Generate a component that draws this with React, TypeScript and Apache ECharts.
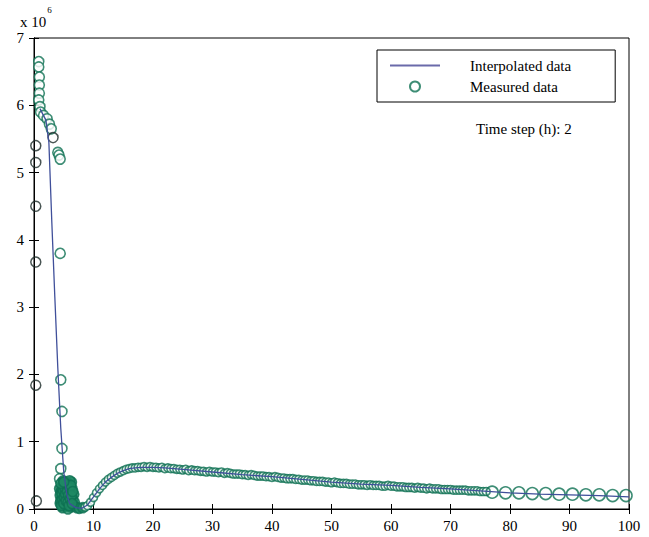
import React, { useEffect, useRef } from "react";
import * as echarts from "echarts";

const xTicks = [0, 10, 20, 30, 40, 50, 60, 70, 80, 90, 100];
const yTicks = [0, 1, 2, 3, 4, 5, 6, 7];

// Interpolated data (values in units of 10^6)
const interpX = [1, 2, 2.5, 3, 3.5, 4, 4.5, 5, 5.5, 6, 7, 8, 9, 10, 11, 12, 13, 14, 15, 16, 17, 18, 19, 20, 22, 25, 30, 35, 40, 45, 50, 55, 60, 65, 70, 75, 80, 85, 90, 95, 100];
const interpY = [5.95, 5.78, 5.45, 4.25, 3.15, 2.1, 1.2, 0.55, 0.22, 0.08, 0.02, 0.01, 0.06, 0.18, 0.3, 0.4, 0.47, 0.53, 0.57, 0.6, 0.61, 0.62, 0.62, 0.62, 0.61, 0.59, 0.55, 0.51, 0.48, 0.44, 0.4, 0.37, 0.35, 0.32, 0.3, 0.27, 0.24, 0.22, 0.21, 0.2, 0.18];

// Measured data
const measuredEarly = [
  [0.8, 6.65], [0.8, 6.57], [0.9, 6.42], [0.9, 6.3], [0.9, 6.18], [0.8, 6.08], [1.0, 5.98], [1.1, 5.9],
  [1.6, 5.85], [2.2, 5.8], [2.6, 5.72], [2.9, 5.65], [4.0, 5.3], [4.2, 5.26], [4.4, 5.2],
  [4.4, 3.8], [4.5, 1.92], [4.7, 1.45], [4.7, 0.9], [4.5, 0.6], [4.3, 0.45],
];
const measuredCluster = [
  [4.3, 0.3], [4.5, 0.25], [4.6, 0.15], [4.4, 0.08], [4.8, 0.02], [5.0, 0.2], [5.1, 0.35], [5.2, 0.1],
  [5.4, 0.28], [5.5, 0.05], [5.6, 0.18], [5.8, 0.38], [5.9, 0.32], [6.0, 0.12], [6.1, 0.25], [6.2, 0.03],
  [6.3, 0.4], [6.4, 0.3], [6.5, 0.15], [6.6, 0.05], [6.7, 0.22], [4.9, 0.42], [5.3, 0.4], [5.7, 0.0],
  [6.0, 0.42], [4.7, 0.3], [6.8, 0.1], [7.2, 0.02], [7.6, 0.01], [8.2, 0.02],
  [4.4, 0.2], [4.5, 0.12], [4.6, 0.05], [4.7, 0.22], [4.8, 0.14], [4.9, 0.28], [5.0, 0.08], [5.1, 0.18],
  [5.2, 0.3], [5.3, 0.22], [5.4, 0.12], [5.5, 0.36], [5.6, 0.26], [5.7, 0.1], [5.8, 0.2], [5.9, 0.05],
  [6.0, 0.32], [6.1, 0.15], [6.2, 0.35], [6.3, 0.2], [6.4, 0.08], [6.5, 0.26], [4.5, 0.38], [5.0, 0.4],
];
const measuredBand = [
  [8.6, 0.03], [9.0, 0.05], [9.5, 0.1], [10, 0.17], [10.5, 0.24], [11, 0.3], [11.5, 0.35], [12, 0.4], [12.5, 0.44],
  [13, 0.47], [13.5, 0.5], [14, 0.53], [14.5, 0.55], [15, 0.57], [15.5, 0.59], [16, 0.6], [16.5, 0.61],
  [17, 0.61], [17.5, 0.62], [18, 0.62], [18.5, 0.63], [19, 0.62], [19.5, 0.63], [20, 0.62], [20.5, 0.62],
  [21, 0.61], [21.5, 0.62], [22, 0.6], [22.5, 0.61], [23, 0.6], [23.5, 0.6], [24, 0.59], [24.5, 0.59],
  [25, 0.58], [25.5, 0.59], [26, 0.57], [26.5, 0.58], [27, 0.57], [27.5, 0.57], [28, 0.56], [28.5, 0.56],
  [29, 0.55], [29.5, 0.56], [30, 0.55], [30.5, 0.55], [31, 0.54], [31.5, 0.55], [32, 0.53], [32.5, 0.54],
  [33, 0.53], [33.5, 0.52], [34, 0.52], [34.5, 0.52], [35, 0.51], [35.5, 0.51], [36, 0.5], [36.5, 0.51],
  [37, 0.5], [37.5, 0.49], [38, 0.49], [38.5, 0.49], [39, 0.48], [39.5, 0.48], [40, 0.47], [40.5, 0.48],
  [41, 0.47], [41.5, 0.46], [42, 0.46], [42.5, 0.45], [43, 0.45], [43.5, 0.45], [44, 0.44], [44.5, 0.44],
  [45, 0.43], [45.5, 0.43], [46, 0.43], [46.5, 0.42], [47, 0.42], [47.5, 0.41], [48, 0.41], [48.5, 0.41],
  [49, 0.4], [49.5, 0.4], [50, 0.39], [50.5, 0.4], [51, 0.39], [51.5, 0.38], [52, 0.38], [52.5, 0.38],
  [53, 0.37], [53.5, 0.37], [54, 0.37], [54.5, 0.36], [55, 0.36], [55.5, 0.36], [56, 0.35], [56.5, 0.36],
  [57, 0.35], [57.5, 0.35], [58, 0.35], [58.5, 0.34], [59, 0.34], [59.5, 0.35], [60, 0.34], [60.5, 0.34],
  [61, 0.33], [61.5, 0.33], [62, 0.33], [62.5, 0.32], [63, 0.32], [63.5, 0.32], [64, 0.31], [64.5, 0.32],
  [65, 0.31], [65.5, 0.31], [66, 0.3], [66.5, 0.31], [67, 0.3], [67.5, 0.3], [68, 0.3], [68.5, 0.29],
  [69, 0.29], [69.5, 0.29], [70, 0.29], [70.5, 0.28], [71, 0.28], [71.5, 0.28], [72, 0.28], [72.5, 0.28],
  [73, 0.27], [73.5, 0.27], [74, 0.27], [74.5, 0.27], [75, 0.26], [75.5, 0.26], [76, 0.26],
];
const measuredTail = [
  [77.0, 0.25], [79.25, 0.24], [81.5, 0.24], [83.75, 0.23], [86, 0.23], [88.25, 0.22], [90.5, 0.22],
  [92.75, 0.21], [95, 0.21], [97.25, 0.2], [99.5, 0.2],
];
const measuredDark = [
  [0.3, 5.4], [0.3, 5.15], [0.3, 4.5], [0.3, 3.67], [0.3, 1.84], [0.4, 0.12], [3.2, 5.52],
];

const FONT = "'Liberation Serif', 'DejaVu Serif', serif";
const GREEN = "#0e7052";
const LINE = "#3f4f9a";

export default function App() {
  const ref = useRef<HTMLDivElement>(null);
  useEffect(() => {
    if (!ref.current) return;
    const chart = echarts.init(ref.current, null, { renderer: "svg" });
    const interp = interpX.map((x, i) => [x, interpY[i]]);
    const circleStyle = { color: "#ffffff", borderColor: GREEN, borderWidth: 1.6 };
    const axisCommon = {
      axisLine: { show: true, lineStyle: { color: "#000" } },
      axisTick: { show: true, inside: true, length: 5, lineStyle: { color: "#000" } },
      splitLine: { show: false },
    };
    chart.setOption({
      animation: false,
      backgroundColor: "#ffffff",
      grid: { left: 34, right: 20, top: 38, bottom: 28, show: true, borderColor: "#000", borderWidth: 1, backgroundColor: "transparent" },
      legend: {
        left: 377, top: 50, orient: "vertical",
        data: [
          { name: "Interpolated data", itemStyle: { opacity: 0 }, lineStyle: { color: "#6a6aaa", width: 2 } },
          { name: "Measured data" },
        ],
        backgroundColor: "#fff",
        borderColor: "#000", borderWidth: 1,
        padding: [8, 44, 8, 12], itemGap: 6, itemWidth: 50, itemHeight: 10,
        textStyle: { fontFamily: FONT, fontSize: 15, color: "#000", padding: [0, 0, 0, 25] },
      },
      xAxis: [
        {
          type: "value", min: 0, max: 100, interval: 10, ...axisCommon,
          axisLabel: { fontFamily: FONT, fontSize: 15, color: "#000", margin: 9 },
        },
        {
          type: "value", min: 0, max: 100, interval: 10, position: "top", ...axisCommon,
          axisLabel: { show: false },
        },
      ],
      yAxis: [
        {
          type: "value", min: 0, max: 7, interval: 1, ...axisCommon,
          axisLabel: { fontFamily: FONT, fontSize: 15, color: "#000", margin: 10 },
        },
        {
          type: "value", min: 0, max: 7, interval: 1, position: "right", ...axisCommon,
          axisLabel: { show: false },
        },
      ],
      series: [
        {
          name: "Interpolated data", type: "line", data: interp, symbol: "none",
          lineStyle: { color: LINE, width: 1.3 }, itemStyle: { color: "#6a6aaa" }, z: 3,
        },
        {
          name: "Measured data", type: "scatter", symbol: "circle", symbolSize: 10,
          data: measuredEarly, itemStyle: circleStyle, z: 2,
        },
        {
          name: "Measured data", type: "scatter", symbol: "circle", symbolSize: 10,
          data: measuredCluster, itemStyle: { color: "#1f8a64", borderColor: GREEN, borderWidth: 1.6 }, z: 2,
        },
        {
          name: "Measured data", type: "scatter", symbol: "circle", symbolSize: 8,
          data: measuredBand, itemStyle: circleStyle, z: 2,
        },
        {
          name: "Measured data", type: "scatter", symbol: "circle", symbolSize: 12,
          data: measuredTail, itemStyle: { color: "transparent", borderColor: GREEN, borderWidth: 1.6 }, z: 2,
        },
        {
          name: "dark", type: "scatter", symbol: "circle", symbolSize: 10,
          data: measuredDark, itemStyle: { color: "transparent", borderColor: "#1c2a28", borderWidth: 1.5 }, z: 2,
        },
      ],
      graphic: [
        {
          type: "text", left: 20, top: 5,
          style: {
            text: "{a|x 10}{s|6}", fill: "#000",
            rich: {
              a: { fontFamily: FONT, fontSize: 15, fill: "#000", verticalAlign: "bottom", padding: [9, 1, 0, 0] },
              s: { fontFamily: FONT, fontSize: 9, fill: "#000", verticalAlign: "top" },
            },
          },
        },
        {
          type: "text", left: 476, top: 121,
          style: { text: "Time step (h): 2", fontFamily: FONT, fontSize: 15, fill: "#000" },
        },
      ],
    });
    return () => chart.dispose();
  }, []);
  return <div ref={ref} style={{ width: 649, height: 537, position: "absolute", left: 0, top: 0 }} />;
}
